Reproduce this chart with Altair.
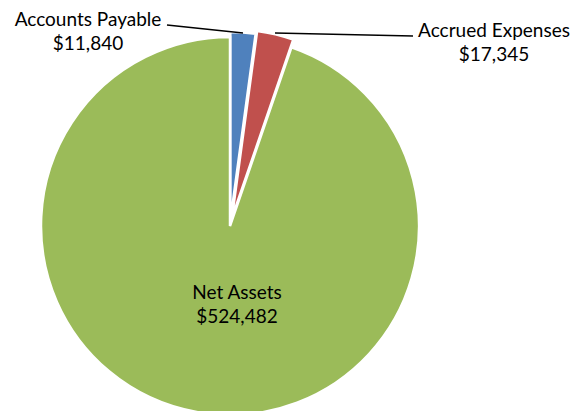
import altair as alt
import pandas as pd

categories = ["Accounts Payable", "Accrued Expenses", "Net Assets"]
values = [11840, 17345, 524482]
colors = ["#4F81BD", "#C0504D", "#9BBB59"]

# layout (plot-area pixels)
W, H = 566, 403
CX, CY, R = 222, 218, 189
explode = [5, 8, 0]
label_pos = [(80, 12), (486, 23), (229, 285)]
leaders = [[(159, 17), (235, 25)], [(267, 25), (405, 28)]]

rows = []
for i, (c, v) in enumerate(zip(categories, values)):
    rows.append({"category": c, "value": v, "order": i, "explode": explode[i]})
df = pd.DataFrame(rows)

base = alt.Chart(df).transform_joinaggregate(
    total="sum(value)"
).transform_window(
    cum="sum(value)", sort=[alt.SortField("order")]
).transform_calculate(
    t0="(datum.cum - datum.value) / datum.total * 2 * PI",
    t1="datum.cum / datum.total * 2 * PI",
).transform_calculate(
    mid="(datum.t0 + datum.t1) / 2"
).transform_calculate(
    px=f"{CX} + datum.explode * sin(datum.mid)",
    py=f"{CY} - datum.explode * cos(datum.mid)",
)

pie = base.mark_arc(stroke="white", strokeWidth=2.5, radius=R).encode(
    theta=alt.Theta("t0:Q", scale=None),
    theta2="t1:Q",
    x=alt.X("px:Q", scale=None),
    y=alt.Y("py:Q", scale=None),
    color=alt.Color("category:N", scale=alt.Scale(domain=categories, range=colors), legend=None),
)

layers = [pie]
for pts in leaders:
    layers.append(
        alt.Chart(pd.DataFrame({"i": [0]})).mark_rule(color="black", strokeWidth=1.5).encode(
            x=alt.value(pts[0][0]), y=alt.value(pts[0][1]),
            x2=alt.value(pts[1][0]), y2=alt.value(pts[1][1]),
        )
    )

for i, c in enumerate(categories):
    tdf = pd.DataFrame({"category": [c], "value": [values[i]]})
    layers.append(
        alt.Chart(tdf).transform_calculate(
            label="datum.category + '\\n$' + format(datum.value, ',')"
        ).mark_text(
            font="Lato", fontSize=19, color="black", lineBreak="\n", lineHeight=24,
            align="center", baseline="middle",
        ).encode(
            x=alt.value(label_pos[i][0]), y=alt.value(label_pos[i][1]), text="label:N"
        )
    )

chart = alt.layer(*layers).properties(
    width=W, height=H, padding=0, autosize="none"
).configure_view(stroke=None)

chart.save("out.html", embed_options={"renderer": "svg", "actions": False})
